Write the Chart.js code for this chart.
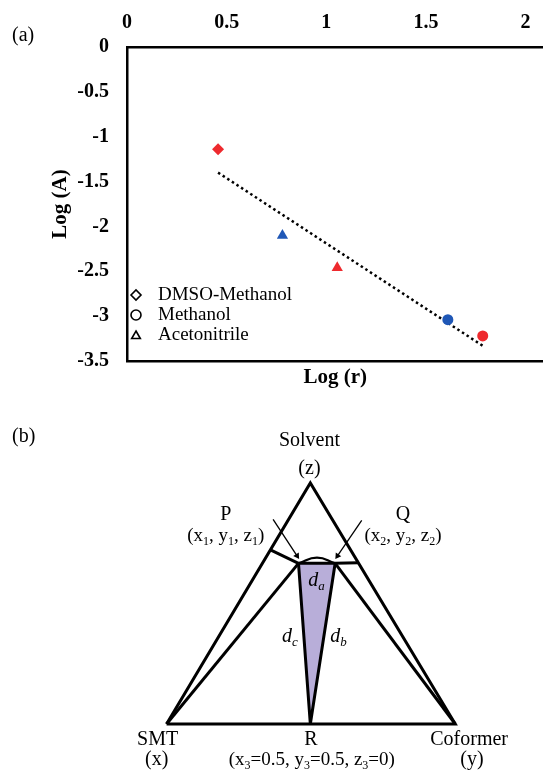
<!DOCTYPE html>
<html>
<head>
<meta charset="utf-8">
<script src="https://cdn.jsdelivr.net/npm/chart.js@4.4.1/dist/chart.umd.min.js"></script>
<style>
  html, body { margin: 0; padding: 0; background: #fff; overflow: hidden; }
  body { width: 543px; height: 774px; position: relative; overflow: hidden; }
  canvas { position: absolute; left: 0; }
  #chartA { top: 0; }
  #chartB { top: 392px; }
  .panel { position: absolute; left: 12px; font: 20px 'Liberation Serif', serif; color: #000; line-height: 23px; }
</style>
</head>
<body>
<canvas id="chartA" width="550" height="392"></canvas>
<canvas id="chartB" width="543" height="382"></canvas>
<div class="panel" style="top:23px">(a)</div>
<div class="panel" style="top:424px">(b)</div>
<script>
// ---- panel (a) data : Log(r) vs Log(A)
const xTicks = [0, 0.5, 1, 1.5, 2];
const solvents = ['DMSO-Methanol', 'Methanol', 'Acetonitrile'];

// red points
const redR = [0.457, 1.055, 1.785];
const redA = [-1.14, -2.46, -3.22];
const redSolvent = ['DMSO-Methanol', 'Acetonitrile', 'Methanol'];
// blue points
const blueR = [0.78, 1.61];
const blueA = [-2.10, -3.04];
const blueSolvent = ['Acetonitrile', 'Methanol'];
// dotted trend line
const trendR = [0.457, 1.785];
const trendA = [-1.40, -3.33];

// ---- panel (b) data : ternary sketch, base SMT->Coformer = 1 unit
const ptNames = ['SMT', 'Solvent', 'Coformer', 'P', 'Q', 'R'];
const ptU = [0, 0.498, 1, 0.457, 0.584, 0.498];
const ptV = [0, 0.840, 0, 0.560, 0.560, 0];
const tieU = [0.358, 0.664];   // ends of the short tie lines through P and Q
const tieV = [0.608, 0.562];
const arcU = [0.457, 0.521, 0.584];
const arcV = [0.560, 0.580, 0.560];
const arrowTailU = [0.369, 0.676];
const arrowTailV = [0.713, 0.710];
const arrowHeadU = [0.452, 0.592];
const arrowHeadV = [0.586, 0.586];

const labelText = ['Solvent', '(z)', 'P', '(x_1, y_1, z_1)', 'Q', '(x_2, y_2, z_2)',
  'd_a', 'd_c', 'd_b', 'SMT', '(x)', 'R', '(x_3=0.5, y_3=0.5, z_3=0)', 'Coformer', '(y)'];
const labelU = [0.495, 0.495, 0.205, 0.205, 0.819, 0.819, 0.519, 0.427, 0.596,
  -0.031, -0.034, 0.500, 0.503, 1.048, 1.058];
const labelV = [0.993, 0.896, 0.734, 0.659, 0.734, 0.659, 0.504, 0.309, 0.309,
  -0.049, -0.121, -0.049, -0.121, -0.049, -0.121];

const RED = '#ee2a2e';
const BLUE = '#1f57b6';
const LAVENDER = '#b8aed9';
const SERIF = "'Liberation Serif', 'Times New Roman', serif";

Chart.defaults.font.family = SERIF;
Chart.defaults.color = '#000';

const shapeOf = {'DMSO-Methanol': 'rectRot', 'Methanol': 'circle', 'Acetonitrile': 'triangle'};
const sizeOf = {'DMSO-Methanol': 6, 'Methanol': 5.5, 'Acetonitrile': 6.5};

function pts(xs, ys) {
  return xs.map((x, i) => ({x: x, y: ys[i]}));
}

// open-marker legend inside the plot, lower left
const solventLegend = {
  id: 'solventLegend',
  afterDraw(chart) {
    const {ctx, chartArea} = chart;
    ctx.save();
    solvents.forEach((name, i) => {
      const y = chartArea.bottom - 66 + i * 20;
      ctx.fillStyle = '#fff';
      ctx.strokeStyle = '#000';
      ctx.lineWidth = 1.6;
      Chart.helpers.drawPoint(ctx, {pointStyle: shapeOf[name], radius: 5, borderWidth: 1.6, rotation: 0},
        chartArea.left + 9, y + (name == 'Acetonitrile' ? 1 : 0));
      ctx.fillStyle = '#000';
      ctx.font = '19px ' + SERIF;
      ctx.textBaseline = 'middle';
      ctx.fillText(name, chartArea.left + 31, y);
    });
    ctx.restore();
  }
};

const tickFont = {size: 20, weight: 'bold', family: SERIF};
const plainNum = v => String(Math.round(v * 10) / 10);

new Chart(document.getElementById('chartA'), {
  type: 'scatter',
  data: {
    datasets: [
      {
        label: 'red',
        data: pts(redR, redA),
        pointStyle: redSolvent.map(s => shapeOf[s]),
        pointRadius: redSolvent.map(s => sizeOf[s]),
        backgroundColor: RED,
        borderColor: RED,
        borderWidth: 0
      },
      {
        label: 'blue',
        data: pts(blueR, blueA),
        pointStyle: blueSolvent.map(s => shapeOf[s]),
        pointRadius: blueSolvent.map(s => sizeOf[s]),
        backgroundColor: BLUE,
        borderColor: BLUE,
        borderWidth: 0
      },
      {
        label: 'trend',
        data: pts(trendR, trendA),
        showLine: true,
        borderColor: '#000',
        borderWidth: 2.5,
        borderDash: [2.5, 3],
        pointRadius: 0
      }
    ]
  },
  options: {
    responsive: false,
    devicePixelRatio: 1,
    animation: false,
    layout: {padding: {left: 44, top: 0, right: 0, bottom: 0}},
    plugins: {legend: {display: false}, tooltip: {enabled: false}},
    scales: {
      x: {
        position: 'top',
        min: 0,
        max: 2.09,
        afterBuildTicks: axis => { axis.ticks = xTicks.map(v => ({value: v})); },
        afterFit: axis => { axis.height = 47; },
        grid: {display: false, drawTicks: false},
        border: {display: true, color: '#000', width: 2.5},
        ticks: {font: tickFont, padding: 12, maxRotation: 0, callback: plainNum}
      },
      x2: {
        type: 'linear',
        position: 'bottom',
        min: 0,
        max: 2.09,
        afterFit: axis => { axis.height = 31; },
        grid: {display: false, drawTicks: false},
        border: {display: true, color: '#000', width: 2.5},
        ticks: {display: false},
        title: {display: true, text: 'Log (r)', font: {size: 21, weight: 'bold', family: SERIF}, padding: {top: 0, bottom: 2}}
      },
      y: {
        min: -3.5,
        max: 0,
        afterFit: axis => { axis.width = 83; },
        grid: {display: false, drawTicks: false},
        border: {display: true, color: '#000', width: 2.5},
        ticks: {stepSize: 0.5, font: tickFont, padding: 18, callback: plainNum},
        title: {display: true, text: 'Log (A)', font: {size: 21, weight: 'bold', family: SERIF}, padding: {top: 4, bottom: 0}}
      }
    }
  },
  plugins: [solventLegend]
});

// ---- panel (b)
function pt(name) {
  const i = ptNames.indexOf(name);
  return {x: ptU[i], y: ptV[i]};
}

// text with "_c" meaning subscript c
function drawRich(ctx, text, x, y, size, italic) {
  const parts = [];
  const re = /_(.)/g;
  let last = 0, m;
  while ((m = re.exec(text)) !== null) {
    if (m.index > last) parts.push({t: text.slice(last, m.index), sub: false});
    parts.push({t: m[1], sub: true});
    last = m.index + 2;
  }
  if (last < text.length) parts.push({t: text.slice(last), sub: false});
  const style = italic ? 'italic ' : '';
  const mainFont = style + size + 'px ' + SERIF;
  const subFont = style + Math.round(size * 0.65) + 'px ' + SERIF;
  let total = 0;
  parts.forEach(p => {
    ctx.font = p.sub ? subFont : mainFont;
    p.w = ctx.measureText(p.t).width;
    total += p.w;
  });
  let cx = x - total / 2;
  const base = y + size * 0.33;
  ctx.textBaseline = 'alphabetic';
  ctx.textAlign = 'left';
  parts.forEach(p => {
    ctx.font = p.sub ? subFont : mainFont;
    ctx.fillText(p.t, cx, p.sub ? base + size * 0.2 : base);
    cx += p.w;
  });
}

const diagramText = {
  id: 'diagramText',
  afterDatasetsDraw(chart) {
    const {ctx, scales} = chart;
    ctx.save();
    ctx.fillStyle = '#000';
    labelText.forEach((t, i) => {
      const italic = t.startsWith('d_');
      const size = t.indexOf('_') >= 0 && !italic ? 19 : 20;
      drawRich(ctx, t, scales.x.getPixelForValue(labelU[i]), scales.y.getPixelForValue(labelV[i]), size, italic);
    });
    ctx.restore();
  }
};

function arrowAngle(i) {
  return Math.atan2(arrowHeadU[i] - arrowTailU[i], arrowHeadV[i] - arrowTailV[i]) * 180 / Math.PI;
}

function lineSet(data, width) {
  return {data: data, showLine: true, borderColor: '#000', borderWidth: width, pointRadius: 0, fill: false};
}

const arrowSets = [0, 1].map(i => ({
  data: [{x: arrowTailU[i], y: arrowTailV[i]}, {x: arrowHeadU[i], y: arrowHeadV[i]}],
  showLine: true,
  borderColor: '#000',
  borderWidth: 1.3,
  pointStyle: 'triangle',
  pointRadius: [0, 3.8],
  pointRotation: arrowAngle(i),
  backgroundColor: '#000',
  pointBorderWidth: 0
}));

new Chart(document.getElementById('chartB'), {
  type: 'scatter',
  data: {
    datasets: [
      lineSet([pt('SMT'), pt('Solvent'), pt('Coformer'), pt('SMT')], 3),
      lineSet([pt('SMT'), pt('P')], 3),
      lineSet([pt('Coformer'), pt('Q')], 3),
      lineSet([{x: tieU[0], y: tieV[0]}, pt('P')], 3),
      lineSet([pt('Q'), {x: tieU[1], y: tieV[1]}], 3),
      Object.assign(lineSet(pts(arcU, arcV), 2.3), {tension: 0.5}),
      arrowSets[0],
      arrowSets[1],
      {
        data: [pt('P'), pt('Q'), pt('R'), pt('P')],
        showLine: true,
        borderColor: '#000',
        borderWidth: 3,
        borderJoinStyle: 'bevel',
        backgroundColor: LAVENDER,
        fill: 'shape',
        pointRadius: 0
      }
    ]
  },
  options: {
    responsive: false,
    devicePixelRatio: 1,
    animation: false,
    layout: {padding: 0},
    plugins: {legend: {display: false}, tooltip: {enabled: false}},
    scales: {
      x: {type: 'linear', display: false, min: -0.5631, max: 1.2901},
      y: {type: 'linear', display: false, min: -0.1604, max: 1.1433}
    }
  },
  plugins: [diagramText]
});
</script>
</body>
</html>
